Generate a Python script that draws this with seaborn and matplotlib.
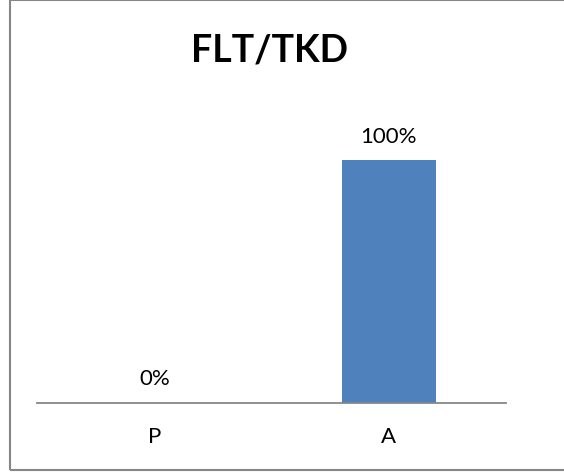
import matplotlib
matplotlib.use("Agg")
import matplotlib.pyplot as plt
import seaborn as sns
import pandas as pd
from matplotlib.patches import Rectangle

categories = ["P", "A"]
values = [0, 100]
title = "FLT/TKD"

sns.set_theme(style="white")
plt.rcParams["font.family"] = ["Lato", "DejaVu Sans"]

df = pd.DataFrame({"cat": categories, "val": values})

fig = plt.figure(figsize=(5.64, 4.73), dpi=100)
W, H = 564, 473
ax = fig.add_axes([37 / W, 1 - 403 / H, (506 - 37) / W, (403 - 112) / H])

sns.barplot(data=df, x="cat", y="val", color="#4F81BD", saturation=1,
            width=0.4, linewidth=0, ax=ax)

ax.set_ylim(0, 120)
ax.set_xlim(-0.5, 1.5)
ax.set_xlabel("")
ax.set_ylabel("")
ax.set_yticks([])
for s in ["top", "right", "left"]:
    ax.spines[s].set_visible(False)
ax.spines["bottom"].set_color("#878787")
ax.spines["bottom"].set_linewidth(1.3)
ax.tick_params(axis="x", length=0, pad=17, labelsize=16, labelcolor="black")

for i, v in enumerate(values):
    ax.annotate(f"{v}%", (i, v), xytext=(0, 10), textcoords="offset points",
                ha="center", va="bottom", fontsize=16, color="black")

fig.text(270 / W, 1 - 50 / H, title, ha="center", va="center",
         fontsize=27, fontweight="bold", color="black")

# chart-area frame (open on the right)
fig.patches.append(Rectangle((10 / W, 3 / H), 1.0, 469.5 / H,
                             transform=fig.transFigure, fill=False,
                             edgecolor="#868686", linewidth=1.5))

fig.savefig("out.png", dpi=100)
